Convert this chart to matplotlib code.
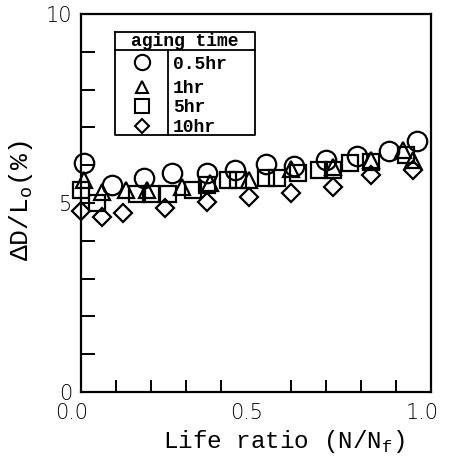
import matplotlib
matplotlib.use('Agg')
import matplotlib.pyplot as plt
import matplotlib.transforms as mtransforms
from matplotlib.ticker import MultipleLocator, FixedLocator

# dilatacion relativa frente a fraccion de vida, para cada tiempo de envejecimiento
x_05 = [0.01, 0.09, 0.18, 0.26, 0.36, 0.44, 0.53, 0.61, 0.70, 0.79, 0.88, 0.96]
y_05 = [6.06, 5.48, 5.66, 5.79, 5.79, 5.87, 6.03, 5.98, 6.14, 6.24, 6.38, 6.65]

x_1 = [0.01, 0.06, 0.13, 0.19, 0.29, 0.37, 0.48, 0.60, 0.72, 0.83, 0.92, 0.95]
y_1 = [5.60, 5.30, 5.35, 5.35, 5.43, 5.53, 5.60, 5.90, 5.96, 6.14, 6.40, 6.14]

x_5 = [0.00, 0.045, 0.16, 0.20, 0.25, 0.32, 0.36, 0.42, 0.45, 0.53, 0.56,
       0.62, 0.68, 0.72, 0.77, 0.83, 0.93]
y_5 = [5.34, 5.00, 5.24, 5.24, 5.24, 5.34, 5.47, 5.60, 5.60, 5.66, 5.66,
       5.80, 5.87, 5.87, 6.05, 6.09, 6.27]

x_10 = [0.00, 0.06, 0.12, 0.24, 0.36, 0.48, 0.60, 0.72, 0.83, 0.95]
y_10 = [4.80, 4.64, 4.73, 4.86, 5.03, 5.17, 5.26, 5.43, 5.74, 5.87]

etiquetas = ['0.5hr', '1hr', '5hr', '10hr']
marcadores = ['o', '^', 's', 'D']
tamanos = [14, 11, 12, 9.5]
tamanos_leyenda = [11, 8, 9.5, 7.5]

fig = plt.figure(figsize=(4.49, 4.75), dpi=100)
ax = fig.add_axes([0.1804, 0.1747, 0.7795, 0.7958])

series = [(x_05, y_05), (x_1, y_1), (x_5, y_5), (x_10, y_10)]
for (xs, ys), m, s in zip(series, marcadores, tamanos):
    ax.plot(xs, ys, linestyle='none', marker=m, markersize=s,
            markerfacecolor='none', markeredgecolor='black',
            markeredgewidth=1.6, clip_on=False)

ax.set_xlim(0, 1)
ax.set_ylim(0, 10)

for lado in ['left', 'bottom', 'right', 'top']:
    ax.spines[lado].set_linewidth(1.6)

ax.xaxis.set_major_locator(FixedLocator([0.0, 0.5, 1.0]))
ax.xaxis.set_minor_locator(MultipleLocator(0.1))
ax.yaxis.set_major_locator(FixedLocator([0, 5, 10]))
ax.yaxis.set_minor_locator(MultipleLocator(1))
ax.set_xticklabels(['0.0', '0.5', '1.0'])
ax.set_yticklabels(['0', '5', '10'])

ax.tick_params(which='both', direction='in', width=1.4, top=False, right=False)
ax.tick_params(axis='x', which='major', length=0, pad=8)
ax.tick_params(axis='x', which='minor', length=9)
ax.tick_params(axis='y', which='both', length=10)
ax.tick_params(axis='y', which='major', pad=6)

for t in ax.get_xticklabels() + ax.get_yticklabels():
    t.set_fontfamily('DejaVu Sans')
    t.set_fontweight('light')
    t.set_fontsize(15)
# los numeros del eje x quedan un poco a la izquierda de cada marca
desplazamiento = mtransforms.ScaledTranslation(-9 / 100, 0, fig.dpi_scale_trans)
for t in ax.get_xticklabels():
    t.set_transform(t.get_transform() + desplazamiento)

ax.set_xlabel('Life ratio (N/N$_\\mathregular{f}$)', family='Liberation Mono',
              fontsize=17.5)
ax.xaxis.set_label_coords(0.58, -0.095)
ax.set_ylabel('\u0394D/L$_\\mathregular{o}$(%)', family='Liberation Mono',
              fontsize=19)
ax.yaxis.set_label_coords(-0.131, 0.505)

# cuadro de leyenda tipo tabla
tr = ax.transAxes
x0, x1, xdiv = 0.097, 0.497, 0.249
ytop, yhead, ybot = 0.952, 0.905, 0.68
kw = dict(transform=tr, color='black', linewidth=1.3, clip_on=False)
ax.plot([x0, x1, x1, x0, x0], [ytop, ytop, ybot, ybot, ytop], **kw)
ax.plot([x0, x1], [yhead, yhead], **kw)
ax.plot([xdiv, xdiv], [yhead, ybot], **kw)
ax.text((x0 + x1) / 2, (ytop + yhead) / 2, 'aging time', transform=tr,
        ha='center', va='center', family='Liberation Mono', weight='bold',
        fontsize=13)
filas = [0.873, 0.807, 0.757, 0.704]
for yf, m, s, lab in zip(filas, marcadores, tamanos_leyenda, etiquetas):
    ax.plot([0.173], [yf], transform=tr, linestyle='none', marker=m,
            markersize=s, markerfacecolor='none', markeredgecolor='black',
            markeredgewidth=1.5, clip_on=False)
    ax.text(0.262, yf, lab, transform=tr, ha='left', va='center_baseline',
            family='Liberation Mono', weight='bold', fontsize=13)

fig.savefig('out.png', dpi=100)
